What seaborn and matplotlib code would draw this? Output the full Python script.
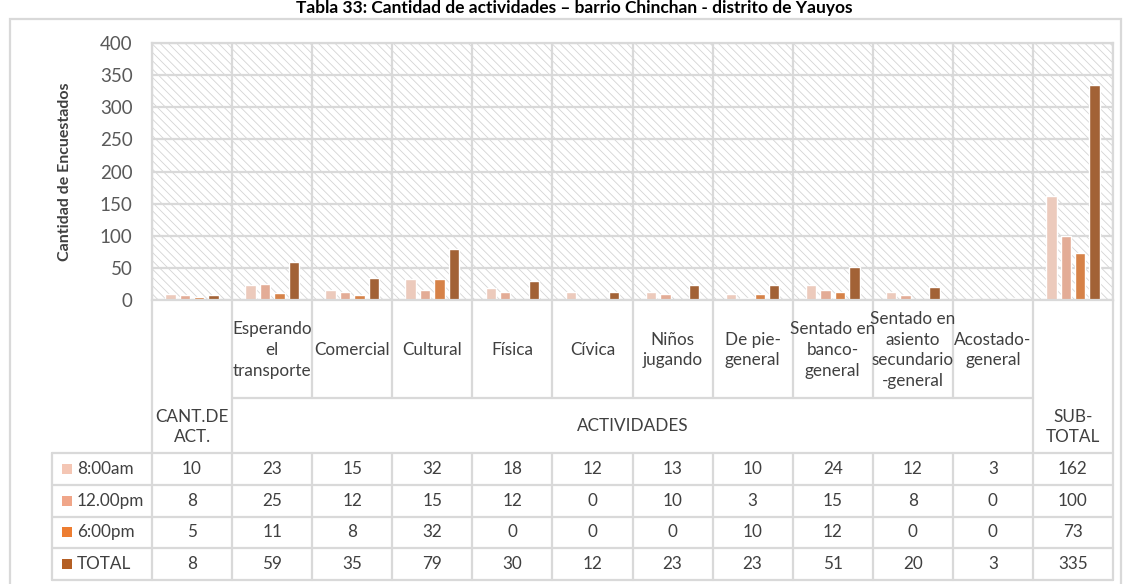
import numpy as np
import pandas as pd
import seaborn as sns
import matplotlib.pyplot as plt
from matplotlib.patches import Rectangle
from matplotlib.transforms import blended_transform_factory

# data
categorias = ["CANT.DE\nACT.", "Esperando\nel\ntransporte", "Comercial", "Cultural", "Física",
              "Cívica", "Niños\njugando", "De pie-\ngeneral", "Sentado en\nbanco-\ngeneral",
              "Sentado en\nasiento\nsecundario\n-general", "Acostado-\ngeneral", "SUB-\nTOTAL"]
series = ["8:00am", "12.00pm", "6:00pm", "TOTAL"]
v_0800 = [10, 23, 15, 32, 18, 12, 13, 10, 24, 12, 3, 162]
v_1200 = [8, 25, 12, 15, 12, 0, 10, 3, 15, 8, 0, 100]
v_1800 = [5, 11, 8, 32, 0, 0, 0, 10, 12, 0, 0, 73]
v_total = [8, 59, 35, 79, 30, 12, 23, 23, 51, 20, 3, 335]
colores = ["#F4C6B4", "#F0A689", "#ED7D31", "#B45F24"]

valores = [v_0800, v_1200, v_1800, v_total]
df = pd.DataFrame({
    "categoria": [c for _ in series for c in range(len(categorias))],
    "serie": [s for s in series for _ in categorias],
    "valor": [v for vals in valores for v in vals],
})

sns.set_style("white")
plt.rcParams["font.family"] = ["Lato", "DejaVu Sans"]
plt.rcParams["hatch.color"] = "#d4d4d4"
plt.rcParams["hatch.linewidth"] = 0.6

W, H = 1131, 584
grid_c = "#d9d9d9"
txt_c = "#404040"


def fy(py):
    return 1 - py / H


fig = plt.figure(figsize=(W / 100, H / 100), dpi=100)
ax = fig.add_axes([152 / W, fy(300), (1113 - 152) / W, (300 - 43) / H])

# hatched background
ax.add_patch(Rectangle((0, 0), 1, 1, transform=ax.transAxes, facecolor="white",
                       edgecolor="#d4d4d4", hatch="\\\\\\\\", lw=0, zorder=0))

sns.barplot(data=df, x="categoria", y="valor", hue="serie", palette=colores,
            width=0.72, gap=0.28, ax=ax, legend=False, zorder=2)

ax.set_xlim(-0.5, len(categorias) - 0.5)
ax.set_ylim(0, 400)
ax.set_yticks(np.arange(0, 401, 50))
ax.set_xticks([])
ax.set_xticks(np.arange(-0.5, len(categorias), 1), minor=True)
ax.set_axisbelow(True)
ax.grid(axis="y", color=grid_c, lw=1.6)
ax.grid(axis="x", which="minor", color=grid_c, lw=1.6)
ax.tick_params(which="both", length=0, labelsize=13.5, labelcolor="#595959", pad=14)
ax.set_xlabel("")
ax.set_ylabel("Cantidad de Encuestados", fontsize=11.5, fontweight="bold", color=txt_c, labelpad=20)
for sp in ax.spines.values():
    sp.set_color(grid_c)
    sp.set_linewidth(1.6)

# outer border and title
fig.add_artist(Rectangle((10 / W, fy(600)), (1121 - 10) / W, (600 - 19) / H,
                         transform=fig.transFigure, fill=False, edgecolor=grid_c, lw=1.6))
fig.text(574 / W, fy(0.5), "Tabla 33: Cantidad de actividades – barrio Chinchan - distrito de Yauyos",
         ha="center", va="top", fontsize=12.5, fontweight="bold", color="black")

# data table under the chart
tr = blended_transform_factory(ax.transData, fig.transFigure)
n = len(categorias)


def hline(x0, x1, py, transform=tr):
    ax.plot([x0, x1], [fy(py), fy(py)], transform=transform, clip_on=False, color=grid_c, lw=1.6)


def vline(x, py0, py1, transform=tr):
    ax.plot([x, x], [fy(py0), fy(py1)], transform=transform, clip_on=False, color=grid_c, lw=1.6)


fs = 12.3
for i, cat in enumerate(categorias):
    if i in (0, n - 1):
        ax.text(i, fy(427), cat, transform=tr, ha="center", va="center", fontsize=fs,
                color=txt_c, linespacing=1.35)
    else:
        ax.text(i, fy(350), cat, transform=tr, ha="center", va="center", fontsize=fs,
                color=txt_c, linespacing=1.35)
ax.text((n - 1) / 2, fy(426), "ACTIVIDADES", transform=tr, ha="center", va="center",
        fontsize=fs, color=txt_c)

hline(0.5, n - 1.5, 398)
for b in np.arange(-0.5, n, 1):
    if b in (-0.5, 0.5, n - 1.5, n - 0.5):
        vline(b, 300, 580)
    else:
        vline(b, 300, 398)
        vline(b, 453, 580)

row_y = [453, 484.7, 516.5, 548.2, 580]
for py in row_y:
    hline(52 / W, 1113 / W, py, transform=fig.transFigure)
vline(52 / W, 453, 580, transform=fig.transFigure)

for r, (s, vals, col) in enumerate(zip(series, valores, colores)):
    yc = (row_y[r] + row_y[r + 1]) / 2
    fig.add_artist(Rectangle((62 / W, fy(yc + 5)), 10 / W, 10 / H, transform=fig.transFigure,
                             facecolor=col, edgecolor="none"))
    fig.text(77 / W, fy(yc), s, ha="left", va="center", fontsize=fs, color=txt_c)
    for i, v in enumerate(vals):
        ax.text(i, fy(yc), str(v), transform=tr, ha="center", va="center", fontsize=fs, color=txt_c)

fig.savefig("out.png", dpi=100)
